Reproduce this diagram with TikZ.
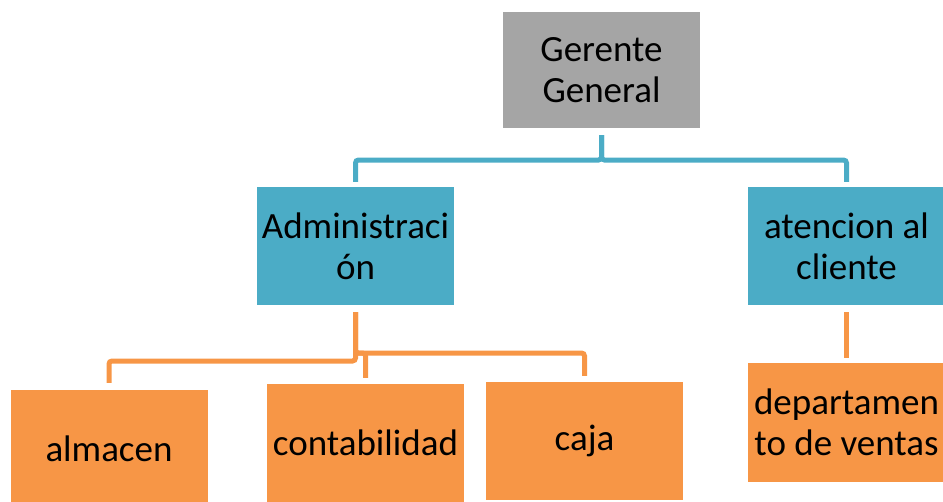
\documentclass[tikz,border=0pt]{standalone}
\usepackage{fontspec}
\setmainfont{Carlito}
\definecolor{boxgray}{HTML}{A5A5A5}
\definecolor{boxblue}{HTML}{4BACC6}
\definecolor{boxorange}{HTML}{F79646}
\tikzset{
  unit/.style={minimum width=197pt, minimum height=118pt, inner sep=0pt, align=center,
    font=\fontsize{37}{41}\selectfont},
  bluelink/.style={draw=boxblue, line width=5pt, rounded corners=3pt},
  orangelink/.style={draw=boxorange, line width=5pt, rounded corners=3pt}
}
\begin{document}
\begin{tikzpicture}[x=1pt, y=-1pt]
    \useasboundingbox (0, 0) rectangle (943, 501);
    \clip (0, 0) rectangle (943, 501);

    \node[unit, fill=boxgray, minimum height=116pt] (ger) at (601.5, 70) {Gerente\\General};
    \node[unit, fill=boxblue] (adm) at (355.5, 246) {Administraci\\ón};
    \node[unit, fill=boxblue] (aten) at (846.5, 246) {atencion al\\cliente};
    \node[unit, fill=boxorange] (alm) at (109, 449) {almacen};
    \node[unit, fill=boxorange] (conta) at (365.5, 443) {contabilidad};
    \node[unit, fill=boxorange] (caja) at (584.5, 441) {caja};
    \node[unit, fill=boxorange, minimum height=119pt] (depto) at (846.5, 422.5) {departamen\\to de ventas};

    \coordinate (busG) at (0, 160);
    \coordinate (busL) at (0, 361);
    \coordinate (busR) at (0, 353);

    \draw[bluelink, shorten <=7pt, shorten >=5pt] (ger.south) -- (ger.south |- busG) -| (adm.north);
    \draw[bluelink, shorten <=7pt, shorten >=5pt] (ger.south) -- (ger.south |- busG) -| (aten.north);

    \draw[orangelink, shorten <=7pt, shorten >=7pt] (adm.south) -- (adm.south |- busL) -| (alm.north);
    \draw[orangelink, shorten <=7pt, shorten >=6pt] (adm.south) -- (adm.south |- busR) -| (caja.north);
    \draw[orangelink, shorten >=6pt] (adm.south |- busR) -| (conta.north);
    \draw[orangelink, shorten <=7pt, shorten >=5pt] (aten.south) -- (depto.north);
\end{tikzpicture}
\end{document}
